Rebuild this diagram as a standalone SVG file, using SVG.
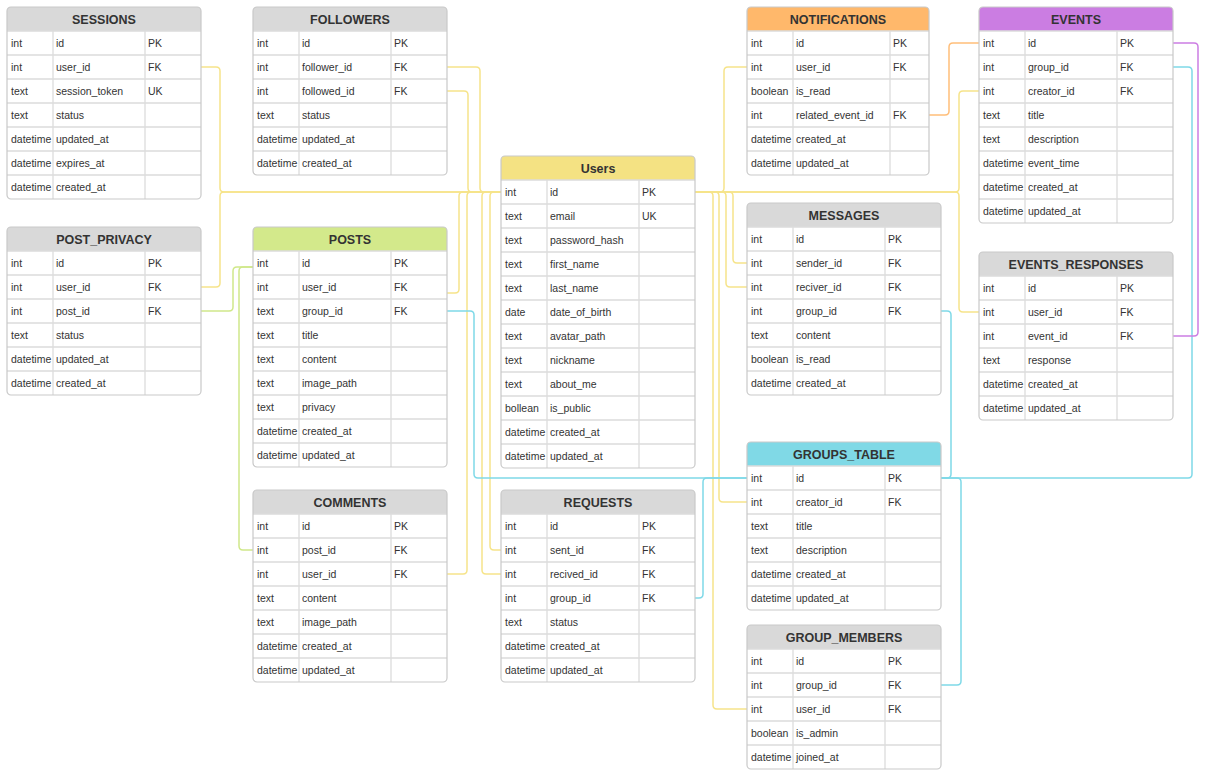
<svg xmlns="http://www.w3.org/2000/svg" width="1211" height="778" viewBox="0 0 1211 778">
<style>
.bg{fill:#ffffff;stroke:none}
.ol{fill:none;stroke:#c9c9c9;stroke-width:1.2}
.gr{fill:none;stroke:#dcdcdc;stroke-width:1.3}
.h{font-family:"Liberation Sans",Arial,sans-serif;font-size:12.5px;font-weight:bold;fill:#333333;text-anchor:middle}
.c{font-family:"Liberation Sans",Arial,sans-serif;font-size:10.5px;fill:#333333}
.gray{fill:#d9d9d9}
.yel{fill:#f4e283}
.grn{fill:#d3e98b}
.org{fill:#ffb86b}
.pur{fill:#cb7de2}
.cya{fill:#80d9e6}
.ln{fill:none;stroke-width:1.5}
.ly{stroke:#f6e48a}
.lc{stroke:#7fd9e8}
.lp{stroke:#cc7ee3}
.lo{stroke:#ffbe7a}
.lg{stroke:#d0e88a}
</style>
<rect x="0" y="0" width="1211" height="778" fill="#ffffff"/>
<g id="connectors">
<path class="ln ly" d="M201,67H216Q220,67 220,71V188Q220,192 224,192H501"/>
<path class="ln ly" d="M201,287H216Q220,287 220,283V196Q220,192 224,192H501"/>
<path class="ln ly" d="M447,67H476Q480,67 480,71V188Q480,192 484,192H501"/>
<path class="ln ly" d="M447,91H464Q468,91 468,95V188Q468,192 472,192H501"/>
<path class="ln ly" d="M447,293H455Q459,293 459,289V196Q459,192 463,192H501"/>
<path class="ln ly" d="M447,574H463Q467,574 467,570V196Q467,192 471,192H501"/>
<path class="ln ly" d="M501,550H494Q490,550 490,546V196Q490,192 494,192H501"/>
<path class="ln ly" d="M501,574H486Q482,574 482,570V196Q482,192 486,192H501"/>
<path class="ln ly" d="M695,192H720Q724,192 724,188V71Q724,67 728,67H747"/>
<path class="ln ly" d="M695,192H729Q733,192 733,196V259Q733,263 737,263H747"/>
<path class="ln ly" d="M695,192H722Q726,192 726,196V283Q726,287 730,287H747"/>
<path class="ln ly" d="M695,192H715Q719,192 719,196V498Q719,502 723,502H747"/>
<path class="ln ly" d="M695,192H709Q713,192 713,196V705Q713,709 717,709H747"/>
<path class="ln ly" d="M695,192H955Q959,192 959,188V95Q959,91 963,91H979"/>
<path class="ln ly" d="M695,192H955Q959,192 959,196V308Q959,312 963,312H979"/>
<path class="ln lc" d="M447,311H470Q474,311 474,315V474Q474,478 478,478H747"/>
<path class="ln lc" d="M695,598H699Q703,598 703,594V482Q703,478 707,478H747"/>
<path class="ln lc" d="M941,311H947Q951,311 951,315V474Q951,478 947,478H941"/>
<path class="ln lc" d="M1173,67H1188Q1192,67 1192,71V474Q1192,478 1188,478H941"/>
<path class="ln lc" d="M941,685H957Q961,685 961,681V482Q961,478 957,478H941"/>
<path class="ln lp" d="M1173,43H1194Q1198,43 1198,47V332Q1198,336 1194,336H1173"/>
<path class="ln lo" d="M929,115H945Q949,115 949,111V47Q949,43 953,43H979"/>
<path class="ln lg" d="M253,267H237Q233,267 233,271V307Q233,311 229,311H201"/>
<path class="ln lg" d="M253,267H243Q239,267 239,271V546Q239,550 243,550H253"/>
</g>

<g id="sessions">
<rect class="bg" x="7" y="7" width="194" height="192" rx="4"/>
<path class="gray" d="M7,31V11Q7,7 11,7H197Q201,7 201,11V31Z"/>
<path class="gr" d="M7,31H201M7,55H201M7,79H201M7,103H201M7,127H201M7,151H201M7,175H201M53,31V199M145,31V199"/>
<rect class="ol" x="7" y="7" width="194" height="192" rx="4"/>
<text class="h" x="104" y="24">SESSIONS</text>
<text class="c" x="11" y="47">int</text><text class="c" x="56" y="47">id</text><text class="c" x="148" y="47">PK</text>
<text class="c" x="11" y="71">int</text><text class="c" x="56" y="71">user_id</text><text class="c" x="148" y="71">FK</text>
<text class="c" x="11" y="95">text</text><text class="c" x="56" y="95">session_token</text><text class="c" x="148" y="95">UK</text>
<text class="c" x="11" y="119">text</text><text class="c" x="56" y="119">status</text>
<text class="c" x="11" y="143">datetime</text><text class="c" x="56" y="143">updated_at</text>
<text class="c" x="11" y="167">datetime</text><text class="c" x="56" y="167">expires_at</text>
<text class="c" x="11" y="191">datetime</text><text class="c" x="56" y="191">created_at</text>
</g>

<g id="followers">
<rect class="bg" x="253" y="7" width="194" height="168" rx="4"/>
<path class="gray" d="M253,31V11Q253,7 257,7H443Q447,7 447,11V31Z"/>
<path class="gr" d="M253,31H447M253,55H447M253,79H447M253,103H447M253,127H447M253,151H447M299,31V175M391,31V175"/>
<rect class="ol" x="253" y="7" width="194" height="168" rx="4"/>
<text class="h" x="350" y="24">FOLLOWERS</text>
<text class="c" x="257" y="47">int</text><text class="c" x="302" y="47">id</text><text class="c" x="394" y="47">PK</text>
<text class="c" x="257" y="71">int</text><text class="c" x="302" y="71">follower_id</text><text class="c" x="394" y="71">FK</text>
<text class="c" x="257" y="95">int</text><text class="c" x="302" y="95">followed_id</text><text class="c" x="394" y="95">FK</text>
<text class="c" x="257" y="119">text</text><text class="c" x="302" y="119">status</text>
<text class="c" x="257" y="143">datetime</text><text class="c" x="302" y="143">updated_at</text>
<text class="c" x="257" y="167">datetime</text><text class="c" x="302" y="167">created_at</text>
</g>

<g id="notifications">
<rect class="bg" x="747" y="7" width="182" height="168" rx="4"/>
<path class="org" d="M747,31V11Q747,7 751,7H925Q929,7 929,11V31Z"/>
<path class="gr" d="M747,31H929M747,55H929M747,79H929M747,103H929M747,127H929M747,151H929M793,31V175M890,31V175"/>
<rect class="ol" x="747" y="7" width="182" height="168" rx="4"/>
<text class="h" x="838" y="24">NOTIFICATIONS</text>
<text class="c" x="751" y="47">int</text><text class="c" x="796" y="47">id</text><text class="c" x="893" y="47">PK</text>
<text class="c" x="751" y="71">int</text><text class="c" x="796" y="71">user_id</text><text class="c" x="893" y="71">FK</text>
<text class="c" x="751" y="95">boolean</text><text class="c" x="796" y="95">is_read</text>
<text class="c" x="751" y="119">int</text><text class="c" x="796" y="119">related_event_id</text><text class="c" x="893" y="119">FK</text>
<text class="c" x="751" y="143">datetime</text><text class="c" x="796" y="143">created_at</text>
<text class="c" x="751" y="167">datetime</text><text class="c" x="796" y="167">updated_at</text>
</g>

<g id="events">
<rect class="bg" x="979" y="7" width="194" height="216" rx="4"/>
<path class="pur" d="M979,31V11Q979,7 983,7H1169Q1173,7 1173,11V31Z"/>
<path class="gr" d="M979,31H1173M979,55H1173M979,79H1173M979,103H1173M979,127H1173M979,151H1173M979,175H1173M979,199H1173M1025,31V223M1117,31V223"/>
<rect class="ol" x="979" y="7" width="194" height="216" rx="4"/>
<text class="h" x="1076" y="24">EVENTS</text>
<text class="c" x="983" y="47">int</text><text class="c" x="1028" y="47">id</text><text class="c" x="1120" y="47">PK</text>
<text class="c" x="983" y="71">int</text><text class="c" x="1028" y="71">group_id</text><text class="c" x="1120" y="71">FK</text>
<text class="c" x="983" y="95">int</text><text class="c" x="1028" y="95">creator_id</text><text class="c" x="1120" y="95">FK</text>
<text class="c" x="983" y="119">text</text><text class="c" x="1028" y="119">title</text>
<text class="c" x="983" y="143">text</text><text class="c" x="1028" y="143">description</text>
<text class="c" x="983" y="167">datetime</text><text class="c" x="1028" y="167">event_time</text>
<text class="c" x="983" y="191">datetime</text><text class="c" x="1028" y="191">created_at</text>
<text class="c" x="983" y="215">datetime</text><text class="c" x="1028" y="215">updated_at</text>
</g>

<g id="users">
<rect class="bg" x="501" y="156" width="194" height="312" rx="4"/>
<path class="yel" d="M501,180V160Q501,156 505,156H691Q695,156 695,160V180Z"/>
<path class="gr" d="M501,180H695M501,204H695M501,228H695M501,252H695M501,276H695M501,300H695M501,324H695M501,348H695M501,372H695M501,396H695M501,420H695M501,444H695M547,180V468M639,180V468"/>
<rect class="ol" x="501" y="156" width="194" height="312" rx="4"/>
<text class="h" x="598" y="173">Users</text>
<text class="c" x="505" y="196">int</text><text class="c" x="550" y="196">id</text><text class="c" x="642" y="196">PK</text>
<text class="c" x="505" y="220">text</text><text class="c" x="550" y="220">email</text><text class="c" x="642" y="220">UK</text>
<text class="c" x="505" y="244">text</text><text class="c" x="550" y="244">password_hash</text>
<text class="c" x="505" y="268">text</text><text class="c" x="550" y="268">first_name</text>
<text class="c" x="505" y="292">text</text><text class="c" x="550" y="292">last_name</text>
<text class="c" x="505" y="316">date</text><text class="c" x="550" y="316">date_of_birth</text>
<text class="c" x="505" y="340">text</text><text class="c" x="550" y="340">avatar_path</text>
<text class="c" x="505" y="364">text</text><text class="c" x="550" y="364">nickname</text>
<text class="c" x="505" y="388">text</text><text class="c" x="550" y="388">about_me</text>
<text class="c" x="505" y="412">bollean</text><text class="c" x="550" y="412">is_public</text>
<text class="c" x="505" y="436">datetime</text><text class="c" x="550" y="436">created_at</text>
<text class="c" x="505" y="460">datetime</text><text class="c" x="550" y="460">updated_at</text>
</g>

<g id="messages">
<rect class="bg" x="747" y="203" width="194" height="192" rx="4"/>
<path class="gray" d="M747,227V207Q747,203 751,203H937Q941,203 941,207V227Z"/>
<path class="gr" d="M747,227H941M747,251H941M747,275H941M747,299H941M747,323H941M747,347H941M747,371H941M793,227V395M885,227V395"/>
<rect class="ol" x="747" y="203" width="194" height="192" rx="4"/>
<text class="h" x="844" y="220">MESSAGES</text>
<text class="c" x="751" y="243">int</text><text class="c" x="796" y="243">id</text><text class="c" x="888" y="243">PK</text>
<text class="c" x="751" y="267">int</text><text class="c" x="796" y="267">sender_id</text><text class="c" x="888" y="267">FK</text>
<text class="c" x="751" y="291">int</text><text class="c" x="796" y="291">reciver_id</text><text class="c" x="888" y="291">FK</text>
<text class="c" x="751" y="315">int</text><text class="c" x="796" y="315">group_id</text><text class="c" x="888" y="315">FK</text>
<text class="c" x="751" y="339">text</text><text class="c" x="796" y="339">content</text>
<text class="c" x="751" y="363">boolean</text><text class="c" x="796" y="363">is_read</text>
<text class="c" x="751" y="387">datetime</text><text class="c" x="796" y="387">created_at</text>
</g>

<g id="events_responses">
<rect class="bg" x="979" y="252" width="194" height="168" rx="4"/>
<path class="gray" d="M979,276V256Q979,252 983,252H1169Q1173,252 1173,256V276Z"/>
<path class="gr" d="M979,276H1173M979,300H1173M979,324H1173M979,348H1173M979,372H1173M979,396H1173M1025,276V420M1117,276V420"/>
<rect class="ol" x="979" y="252" width="194" height="168" rx="4"/>
<text class="h" x="1076" y="269">EVENTS_RESPONSES</text>
<text class="c" x="983" y="292">int</text><text class="c" x="1028" y="292">id</text><text class="c" x="1120" y="292">PK</text>
<text class="c" x="983" y="316">int</text><text class="c" x="1028" y="316">user_id</text><text class="c" x="1120" y="316">FK</text>
<text class="c" x="983" y="340">int</text><text class="c" x="1028" y="340">event_id</text><text class="c" x="1120" y="340">FK</text>
<text class="c" x="983" y="364">text</text><text class="c" x="1028" y="364">response</text>
<text class="c" x="983" y="388">datetime</text><text class="c" x="1028" y="388">created_at</text>
<text class="c" x="983" y="412">datetime</text><text class="c" x="1028" y="412">updated_at</text>
</g>

<g id="post_privacy">
<rect class="bg" x="7" y="227" width="194" height="168" rx="4"/>
<path class="gray" d="M7,251V231Q7,227 11,227H197Q201,227 201,231V251Z"/>
<path class="gr" d="M7,251H201M7,275H201M7,299H201M7,323H201M7,347H201M7,371H201M53,251V395M145,251V395"/>
<rect class="ol" x="7" y="227" width="194" height="168" rx="4"/>
<text class="h" x="104" y="244">POST_PRIVACY</text>
<text class="c" x="11" y="267">int</text><text class="c" x="56" y="267">id</text><text class="c" x="148" y="267">PK</text>
<text class="c" x="11" y="291">int</text><text class="c" x="56" y="291">user_id</text><text class="c" x="148" y="291">FK</text>
<text class="c" x="11" y="315">int</text><text class="c" x="56" y="315">post_id</text><text class="c" x="148" y="315">FK</text>
<text class="c" x="11" y="339">text</text><text class="c" x="56" y="339">status</text>
<text class="c" x="11" y="363">datetime</text><text class="c" x="56" y="363">updated_at</text>
<text class="c" x="11" y="387">datetime</text><text class="c" x="56" y="387">created_at</text>
</g>

<g id="posts">
<rect class="bg" x="253" y="227" width="194" height="240" rx="4"/>
<path class="grn" d="M253,251V231Q253,227 257,227H443Q447,227 447,231V251Z"/>
<path class="gr" d="M253,251H447M253,275H447M253,299H447M253,323H447M253,347H447M253,371H447M253,395H447M253,419H447M253,443H447M299,251V467M391,251V467"/>
<rect class="ol" x="253" y="227" width="194" height="240" rx="4"/>
<text class="h" x="350" y="244">POSTS</text>
<text class="c" x="257" y="267">int</text><text class="c" x="302" y="267">id</text><text class="c" x="394" y="267">PK</text>
<text class="c" x="257" y="291">int</text><text class="c" x="302" y="291">user_id</text><text class="c" x="394" y="291">FK</text>
<text class="c" x="257" y="315">text</text><text class="c" x="302" y="315">group_id</text><text class="c" x="394" y="315">FK</text>
<text class="c" x="257" y="339">text</text><text class="c" x="302" y="339">title</text>
<text class="c" x="257" y="363">text</text><text class="c" x="302" y="363">content</text>
<text class="c" x="257" y="387">text</text><text class="c" x="302" y="387">image_path</text>
<text class="c" x="257" y="411">text</text><text class="c" x="302" y="411">privacy</text>
<text class="c" x="257" y="435">datetime</text><text class="c" x="302" y="435">created_at</text>
<text class="c" x="257" y="459">datetime</text><text class="c" x="302" y="459">updated_at</text>
</g>

<g id="comments">
<rect class="bg" x="253" y="490" width="194" height="192" rx="4"/>
<path class="gray" d="M253,514V494Q253,490 257,490H443Q447,490 447,494V514Z"/>
<path class="gr" d="M253,514H447M253,538H447M253,562H447M253,586H447M253,610H447M253,634H447M253,658H447M299,514V682M391,514V682"/>
<rect class="ol" x="253" y="490" width="194" height="192" rx="4"/>
<text class="h" x="350" y="507">COMMENTS</text>
<text class="c" x="257" y="530">int</text><text class="c" x="302" y="530">id</text><text class="c" x="394" y="530">PK</text>
<text class="c" x="257" y="554">int</text><text class="c" x="302" y="554">post_id</text><text class="c" x="394" y="554">FK</text>
<text class="c" x="257" y="578">int</text><text class="c" x="302" y="578">user_id</text><text class="c" x="394" y="578">FK</text>
<text class="c" x="257" y="602">text</text><text class="c" x="302" y="602">content</text>
<text class="c" x="257" y="626">text</text><text class="c" x="302" y="626">image_path</text>
<text class="c" x="257" y="650">datetime</text><text class="c" x="302" y="650">created_at</text>
<text class="c" x="257" y="674">datetime</text><text class="c" x="302" y="674">updated_at</text>
</g>

<g id="requests">
<rect class="bg" x="501" y="490" width="194" height="192" rx="4"/>
<path class="gray" d="M501,514V494Q501,490 505,490H691Q695,490 695,494V514Z"/>
<path class="gr" d="M501,514H695M501,538H695M501,562H695M501,586H695M501,610H695M501,634H695M501,658H695M547,514V682M639,514V682"/>
<rect class="ol" x="501" y="490" width="194" height="192" rx="4"/>
<text class="h" x="598" y="507">REQUESTS</text>
<text class="c" x="505" y="530">int</text><text class="c" x="550" y="530">id</text><text class="c" x="642" y="530">PK</text>
<text class="c" x="505" y="554">int</text><text class="c" x="550" y="554">sent_id</text><text class="c" x="642" y="554">FK</text>
<text class="c" x="505" y="578">int</text><text class="c" x="550" y="578">recived_id</text><text class="c" x="642" y="578">FK</text>
<text class="c" x="505" y="602">int</text><text class="c" x="550" y="602">group_id</text><text class="c" x="642" y="602">FK</text>
<text class="c" x="505" y="626">text</text><text class="c" x="550" y="626">status</text>
<text class="c" x="505" y="650">datetime</text><text class="c" x="550" y="650">created_at</text>
<text class="c" x="505" y="674">datetime</text><text class="c" x="550" y="674">updated_at</text>
</g>

<g id="groups_table">
<rect class="bg" x="747" y="442" width="194" height="168" rx="4"/>
<path class="cya" d="M747,466V446Q747,442 751,442H937Q941,442 941,446V466Z"/>
<path class="gr" d="M747,466H941M747,490H941M747,514H941M747,538H941M747,562H941M747,586H941M793,466V610M885,466V610"/>
<rect class="ol" x="747" y="442" width="194" height="168" rx="4"/>
<text class="h" x="844" y="459">GROUPS_TABLE</text>
<text class="c" x="751" y="482">int</text><text class="c" x="796" y="482">id</text><text class="c" x="888" y="482">PK</text>
<text class="c" x="751" y="506">int</text><text class="c" x="796" y="506">creator_id</text><text class="c" x="888" y="506">FK</text>
<text class="c" x="751" y="530">text</text><text class="c" x="796" y="530">title</text>
<text class="c" x="751" y="554">text</text><text class="c" x="796" y="554">description</text>
<text class="c" x="751" y="578">datetime</text><text class="c" x="796" y="578">created_at</text>
<text class="c" x="751" y="602">datetime</text><text class="c" x="796" y="602">updated_at</text>
</g>

<g id="group_members">
<rect class="bg" x="747" y="625" width="194" height="144" rx="4"/>
<path class="gray" d="M747,649V629Q747,625 751,625H937Q941,625 941,629V649Z"/>
<path class="gr" d="M747,649H941M747,673H941M747,697H941M747,721H941M747,745H941M793,649V769M885,649V769"/>
<rect class="ol" x="747" y="625" width="194" height="144" rx="4"/>
<text class="h" x="844" y="642">GROUP_MEMBERS</text>
<text class="c" x="751" y="665">int</text><text class="c" x="796" y="665">id</text><text class="c" x="888" y="665">PK</text>
<text class="c" x="751" y="689">int</text><text class="c" x="796" y="689">group_id</text><text class="c" x="888" y="689">FK</text>
<text class="c" x="751" y="713">int</text><text class="c" x="796" y="713">user_id</text><text class="c" x="888" y="713">FK</text>
<text class="c" x="751" y="737">boolean</text><text class="c" x="796" y="737">is_admin</text>
<text class="c" x="751" y="761">datetime</text><text class="c" x="796" y="761">joined_at</text>
</g>
</svg>
